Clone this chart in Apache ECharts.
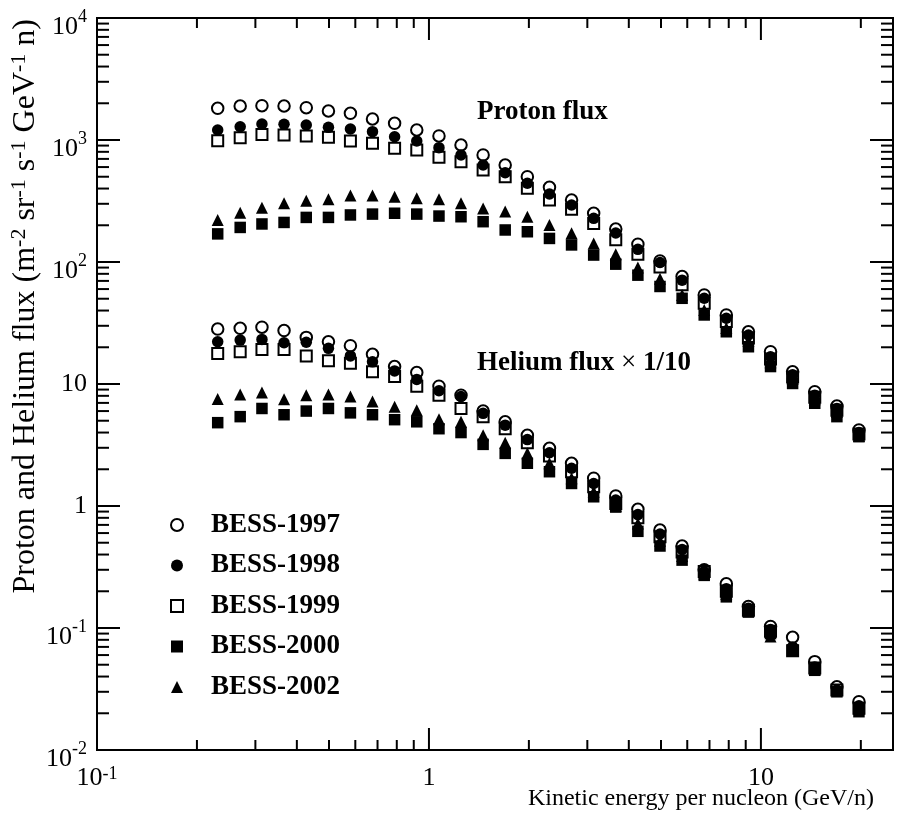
<!DOCTYPE html>
<html><head><meta charset="utf-8">
<script src="https://cdn.jsdelivr.net/npm/echarts@6/dist/echarts.min.js"></script>
<style>html,body{margin:0;padding:0;background:#fff}#c{width:899px;height:825px}</style>
</head><body><div id="c"></div>
<script>
// Kinetic energy per nucleon (GeV/n), bin centres
const energy = [0.231, 0.270, 0.314, 0.366, 0.427, 0.498, 0.580, 0.676, 0.788, 0.919,
  1.072, 1.249, 1.456, 1.697, 1.979, 2.307, 2.689, 3.135, 3.654, 4.260,
  4.966, 5.789, 6.749, 7.867, 9.171, 10.69, 12.46, 14.53, 16.94, 19.74];

// Proton flux
const proton1997 = [1820, 1900, 1910, 1900, 1840, 1729, 1655, 1486, 1370, 1208, 1079, 910, 754, 624, 500, 409, 322, 251, 186, 140, 102, 76, 53.7, 36.8, 26.8, 18.4, 12.6, 8.65, 6.6, 4.2];
const proton1998 = [1208, 1285, 1352, 1345, 1327, 1270, 1231, 1170, 1064, 981, 865, 754, 624, 539, 442, 361, 293, 228, 173, 127, 99, 71, 50.4, 34.6, 25.2, 16.7, 11.9, 8.1, 6.3, 4.0];
const proton1999 = [986, 1045, 1112, 1100, 1079, 1052, 981, 940, 855, 828, 721, 664, 568, 500, 402, 322, 270, 207, 152, 116, 91, 65, 45.8, 32.5, 23.8, 16.0, 11.4, 7.8, 6.1, 3.9];
const proton2000 = [170, 192, 205, 211, 232, 232, 243, 247, 251, 247, 238, 235, 214, 183, 177, 156, 138, 114, 96, 78, 63, 50.4, 36.8, 26.8, 20.2, 13.9, 10.1, 6.95, 5.4, 3.7];
const proton2002 = [221, 253, 279, 303, 318, 327, 350, 350, 343, 333, 327, 303, 275, 259, 235, 201, 172, 142, 116, 90, 73, 53.7, 40.4, 28.8, 22.5, 15.1, 11.0, 7.5, 5.9, 3.75];

// Helium flux x 1/10
const helium1997 = [28.2, 28.6, 29.2, 27.4, 24.1, 22.2, 20.6, 17.5, 13.9, 12.4, 9.6, 8.1, 6.0, 4.9, 3.8, 2.97, 2.24, 1.69, 1.21, 0.94, 0.635, 0.47, 0.30, 0.23, 0.15, 0.103, 0.084, 0.053, 0.033, 0.0249];
const helium1998 = [22.2, 22.9, 23.2, 21.8, 22.0, 19.6, 17.0, 15.2, 12.8, 10.9, 8.8, 7.9, 5.75, 4.6, 3.5, 2.73, 2.04, 1.53, 1.12, 0.85, 0.59, 0.44, 0.29, 0.21, 0.145, 0.097, 0.070, 0.048, 0.031, 0.023];
const helium1999 = [17.8, 18.4, 19.2, 19.2, 17.0, 15.5, 14.8, 12.6, 11.5, 9.6, 8.1, 6.3, 5.4, 4.3, 3.3, 2.57, 1.91, 1.44, 1.05, 0.80, 0.56, 0.42, 0.29, 0.20, 0.14, 0.094, 0.065, 0.047, 0.031, 0.022];
const helium2000 = [4.82, 5.4, 6.3, 5.6, 6.0, 6.3, 5.8, 5.6, 5.1, 4.9, 4.3, 4.0, 3.2, 2.7, 2.24, 1.91, 1.53, 1.19, 0.98, 0.62, 0.47, 0.36, 0.27, 0.18, 0.135, 0.09, 0.066, 0.045, 0.030, 0.0206];
const helium2002 = [7.54, 8.2, 8.5, 7.5, 8.1, 8.2, 7.9, 7.2, 6.5, 6.1, 5.15, 4.9, 3.8, 3.3, 2.7, 2.24, 1.69, 1.31, 1.0, 0.72, 0.52, 0.39, 0.28, 0.19, 0.14, 0.085, 0.066, 0.046, 0.031, 0.022];

const seriesNames = ['BESS-1997', 'BESS-1998', 'BESS-1999', 'BESS-2000', 'BESS-2002'];
const protonSets = [proton1997, proton1998, proton1999, proton2000, proton2002];
const heliumSets = [helium1997, helium1998, helium1999, helium2000, helium2002];

// axis decoration
const xMajorTicks = [0.1, 1, 10];
const yMajorTicks = [0.01, 0.1, 1, 10, 100, 1000, 10000];
const xMax = 25;
const xTitle = 'Kinetic energy per nucleon (GeV/n)';
const protonLabel = 'Proton flux';
const heliumLabel = '{b|Helium flux }{r|\u00d7}{b| 1/10}';

const FONT = '"Liberation Serif", "Times New Roman", serif';

function minorList(majors, maxV) {
  const out = [];
  majors.forEach(function (m, i) {
    out.push([m, 1]);
    if (i < majors.length - 1 || maxV) {
      for (let k = 2; k <= 9; k++) {
        const v = k * m;
        if (maxV && v > maxV) break;
        if (!maxV && i === majors.length - 1) break;
        out.push([v, 0]);
      }
    }
  });
  return out;
}
const xTicks = minorList(xMajorTicks, xMax);
const yTicks = minorList(yMajorTicks, null);

const tickData = [];
xTicks.forEach(function (t) { tickData.push([t[0], 1, 0, t[1]]); });
yTicks.forEach(function (t) { tickData.push([1, t[0], 1, t[1]]); });

function expOf(v) {
  const l = Math.log10(v);
  const e = Math.round(l);
  return Math.abs(l - e) < 1e-6 ? e : null;
}
function powLabel(v) {
  const e = expOf(v);
  if (e === null) return '';
  if (e === 0) return '{b|1}';
  if (e === 1) return '{b|10}';
  return '{b|10}{s|' + e + '}';
}

const styles = [
  { symbol: 'circle', symbolSize: 11.5, itemStyle: { color: 'rgba(0,0,0,0)', borderColor: '#000', borderWidth: 2, opacity: 1 } },
  { symbol: 'circle', symbolSize: 11.5, itemStyle: { color: '#000', opacity: 1 } },
  { symbol: 'rect', symbolSize: 11, itemStyle: { color: 'rgba(0,0,0,0)', borderColor: '#000', borderWidth: 2, opacity: 1 } },
  { symbol: 'rect', symbolSize: 11.5, itemStyle: { color: '#000', opacity: 1 } },
  { symbol: 'triangle', symbolSize: 12, itemStyle: { color: '#000', opacity: 1 } }
];

const series = seriesNames.map(function (name, s) {
  const data = energy.map(function (e, i) { return [e, protonSets[s][i]]; })
    .concat(energy.map(function (e, i) { return [e, heliumSets[s][i]]; }));
  return Object.assign({
    name: name, type: 'scatter', data: data, z: 3 + s,
    emphasis: { disabled: true }
  }, styles[s]);
});

series.push({
  type: 'custom', coordinateSystem: 'cartesian2d', silent: true, clip: false, z: 20,
  encode: { x: 0, y: 1 }, data: tickData,
  renderItem: function (params, api) {
    const cs = params.coordSys;
    const kind = api.value(2), major = api.value(3);
    const st = { stroke: '#000', lineWidth: 2 };
    if (kind === 0) {
      const px = api.coord([api.value(0), 1])[0];
      const len = major ? 22 : 10;
      const b = cs.y + cs.height, t = cs.y;
      return { type: 'group', children: [
        { type: 'line', shape: { x1: px, y1: b, x2: px, y2: b - len }, style: st },
        { type: 'line', shape: { x1: px, y1: t, x2: px, y2: t + len }, style: st }
      ] };
    } else {
      const py = api.coord([1, api.value(1)])[1];
      const len = major ? 23 : 12;
      const l = cs.x, r = cs.x + cs.width;
      return { type: 'group', children: [
        { type: 'line', shape: { x1: l, y1: py, x2: l + len, y2: py }, style: st },
        { type: 'line', shape: { x1: r, y1: py, x2: r - len, y2: py }, style: st }
      ] };
    }
  }
});

const chart = echarts.init(document.getElementById('c'), null, { renderer: 'canvas' });
chart.setOption({
  animation: false,
  backgroundColor: '#fff',
  grid: { left: 97, right: 6, top: 18, bottom: 75, show: true, borderColor: '#000', borderWidth: 2, backgroundColor: 'rgba(0,0,0,0)', containLabel: false },
  xAxis: {
    type: 'log', logBase: 10, min: 0.1, max: xMax,
    axisLine: { show: false }, axisTick: { show: false }, splitLine: { show: false },
    axisLabel: {
      formatter: powLabel, margin: 15, showMaxLabel: false, color: '#000',
      rich: {
        b: { fontFamily: FONT, fontSize: 26, lineHeight: 26, verticalAlign: 'bottom', color: '#000' },
        s: { fontFamily: FONT, fontSize: 18, verticalAlign: 'top', padding: [0, 0, 8, 0], color: '#000' }
      }
    }
  },
  yAxis: {
    type: 'log', logBase: 10, min: 0.01, max: 10000,
    axisLine: { show: false }, axisTick: { show: false }, splitLine: { show: false },
    axisLabel: {
      formatter: powLabel, margin: 10, color: '#000',
      rich: {
        b: { fontFamily: FONT, fontSize: 26, lineHeight: 26, verticalAlign: 'bottom', color: '#000' },
        s: { fontFamily: FONT, fontSize: 18, verticalAlign: 'top', padding: [12, 0, 14, 0], color: '#000' }
      }
    }
  },
  legend: {
    data: seriesNames, orient: 'vertical', left: 170, top: 510, padding: 0,
    itemWidth: 12, itemHeight: 12, itemGap: 10.5, selectedMode: false,
    textStyle: { fontFamily: FONT, fontSize: 27, fontWeight: 'bold', color: '#000', lineHeight: 30, padding: [0, 0, 0, 23] }
  },
  graphic: [
    { type: 'text', x: 25, y: 19, rotation: Math.PI / 2, silent: true,
      style: {
        text: '{b|Proton and Helium flux (m}{s|-2}{b| sr}{s|-1}{b| s}{s|-1}{b| GeV}{s|-1}{b| n)}',
        align: 'right', verticalAlign: 'middle', fill: '#000',
        rich: {
          b: { fontFamily: FONT, fontSize: 32, lineHeight: 32, verticalAlign: 'bottom', fill: '#000' },
          s: { fontFamily: FONT, fontSize: 22, verticalAlign: 'top', padding: [0, 0, 12, 0], fill: '#000' }
        }
      } },
    { type: 'text', x: 874, y: 799, silent: true,
      style: { text: xTitle, font: '24px ' + FONT, align: 'right', verticalAlign: 'middle', fill: '#000' } },
    { type: 'text', x: 477, y: 112, silent: true,
      style: { text: protonLabel, font: 'bold 27px ' + FONT, align: 'left', verticalAlign: 'middle', fill: '#000' } },
    { type: 'text', x: 477, y: 363, silent: true,
      style: { text: heliumLabel, align: 'left', verticalAlign: 'middle', fill: '#000',
        rich: {
          b: { fontFamily: FONT, fontSize: 27, fontWeight: 'bold', fill: '#000' },
          r: { fontFamily: FONT, fontSize: 27, fontWeight: 'normal', fill: '#000' }
        } } }
  ],
  series: series
});
</script>
</body></html>
